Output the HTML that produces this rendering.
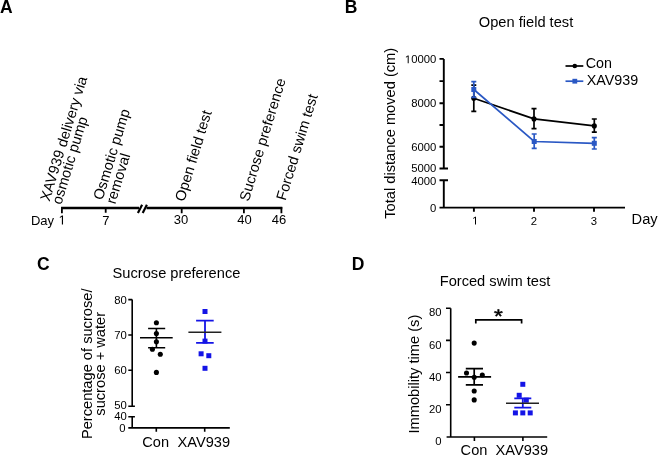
<!DOCTYPE html>
<html><head><meta charset="utf-8">
<style>
html,body{margin:0;padding:0;background:#fff;}
body{width:658px;height:456px;overflow:hidden;}
svg{display:block;will-change:transform;}
text{font-family:"Liberation Sans",sans-serif;fill:#000;}
.b{font-weight:bold;font-size:17.5px;}
.m{font-size:14.65px;}
.t{font-size:11.3px;}
.a{font-size:13px;}
.r{font-size:14.6px;}
.rl{font-size:14.6px;}
</style></head>
<body>
<svg width="658" height="456" viewBox="0 0 658 456">
<!-- ============ Panel A ============ -->
<text class="b" x="0" y="12.6">A</text>
<g stroke="#000" fill="none">
  <path d="M61.1 208H139M146.5 208H282.3" stroke-width="2.4"/>
  <path d="M137.9 212.9L142.1 204.8M142.7 212.9L146.9 204.8" stroke-width="2.2"/>
  <path d="M61.9 207V213.2M105.7 207V212.8M181.7 207V213.2M243.9 207V213.2M281.4 207V213.2" stroke-width="1.8"/>
</g>
<g class="a">
  <text x="54" y="224.5" text-anchor="end">Day</text>
  <path transform="translate(58.60 224.5) scale(0.006348 -0.006348)" d="M515 0V1237L197 1010V1180L530 1409H696V0Z"/>
  <text x="105.8" y="224.5" text-anchor="middle">7</text>
  <text x="181" y="224" text-anchor="middle">30</text>
  <text x="244.5" y="224" text-anchor="middle">40</text>
  <text x="279" y="224" text-anchor="middle">46</text>
</g>
<g class="rl">
  <text transform="translate(49.4 202) rotate(-73)">XAV939 delivery via</text>
  <text transform="translate(61.2 205.3) rotate(-73)">osmotic pump</text>
  <text transform="translate(102.5 200.8) rotate(-73)">Osmotic pump</text>
  <text transform="translate(115.2 204.8) rotate(-73)">removal</text>
  <text transform="translate(184.3 202.2) rotate(-73)">Open field test</text>
  <text transform="translate(248.7 201.9) rotate(-73)">Sucrose preference</text>
  <text transform="translate(285.6 201.3) rotate(-73)">Forced swim test</text>
</g>

<!-- ============ Panel B ============ -->
<text class="b" x="344.7" y="13">B</text>
<text class="m" x="478.8" y="26.8">Open field test</text>
<g stroke="#000" fill="none" stroke-width="1.9">
  <path d="M443.8 58.9V168.5M443.8 180.3V207.6"/>
  <path d="M439.5 58.9H443.8M439.5 81.1H443.8M439.5 103.3H443.8M439.5 125H443.8M439.5 146.8H443.8M439.5 168.5H448M439.5 180.3H448"/>
  <path d="M439.5 207.6H625"/>
  <path d="M473.9 207.6V211.7M534 207.6V211.7M594 207.6V211.7"/>
</g>
<g class="t" text-anchor="end">
  <text x="436.3" y="63.3">0000</text>
  <text x="436.3" y="107.2">8000</text>
  <text x="436.3" y="150.7">6000</text>
  <text x="436.3" y="172.4">5000</text>
  <text x="436.3" y="185.2">4000</text>
  <text x="436.3" y="211.5">0</text>
</g>
<g class="t" text-anchor="middle">
  
  <text x="534" y="224.6">2</text>
  <text x="594" y="224.6">3</text>
</g>
<text class="m" x="631.6" y="223.8">Day</text>
<text class="m" transform="translate(395.1 218.7) rotate(-90)">Total distance moved (cm)</text>
<path transform="translate(404.85 63.3) scale(0.005518 -0.005518)" d="M515 0V1237L197 1010V1180L530 1409H696V0Z"/>
<path transform="translate(472.16 224.6) scale(0.005518 -0.005518)" d="M515 0V1237L197 1010V1180L530 1409H696V0Z"/>
<!-- data B -->
<g stroke="#000" fill="none" stroke-width="1.7">
  <path d="M473.8 98.3L534 118.9L594.3 125.9"/>
  <path d="M473.8 85.2V111.4M471.3 85.2H476.3M471.3 111.4H476.3"/>
  <path d="M534 108.7V128.7M531.5 108.7H536.5M531.5 128.7H536.5"/>
  <path d="M594.3 119V132.2M591.8 119H596.8M591.8 132.2H596.8"/>
</g>
<g fill="#000">
  <circle cx="473.8" cy="98.3" r="2.55"/><circle cx="534" cy="118.9" r="2.55"/><circle cx="594.3" cy="125.9" r="2.55"/>
</g>
<g stroke="#2a58c4" fill="none" stroke-width="1.7">
  <path d="M473.8 89.5L534.2 141.5L594.3 143.3"/>
  <path d="M473.8 81.6V97.4M471.3 81.6H476.3M471.3 97.4H476.3"/>
  <path d="M534.2 134V148.4M531.7 134H536.7M531.7 148.4H536.7"/>
  <path d="M594.3 137.6V149M591.8 137.6H596.8M591.8 149H596.8"/>
</g>
<g fill="#2a58c4">
  <rect x="471.3" y="87" width="5" height="5"/><rect x="531.7" y="139" width="5" height="5"/><rect x="591.8" y="140.8" width="5" height="5"/>
</g>
<!-- legend -->
<path d="M565.5 66H583.3" stroke="#000" stroke-width="1.7"/>
<circle cx="574.8" cy="66" r="2.3" fill="#000"/>
<path d="M565.5 81.2H583.3" stroke="#2a58c4" stroke-width="1.7"/>
<rect x="572.4" y="78.8" width="4.8" height="4.8" fill="#2a58c4"/>
<text class="r" x="585.8" y="67.6" style="font-size:14.3px">Con</text>
<text class="r" x="586.8" y="84.5" style="font-size:14.3px">XAV939</text>

<!-- ============ Panel C ============ -->
<text class="b" x="37" y="270">C</text>
<text class="m" x="112.6" y="278.1">Sucrose preference</text>
<g stroke="#000" fill="none" stroke-width="1.6">
  <path d="M132.2 299.6V406.3M132.2 416.7V427.9"/>
  <path d="M128.3 299.6H132.2M128.3 335H132.2M128.3 370.3H132.2M128.3 406.3H134.9M128.3 416.7H134.9"/>
  <path d="M128.3 427.9H229.8"/>
  <path d="M156.3 427.9V431.7M204.7 427.9V431.7"/>
</g>
<g class="t" text-anchor="end">
  <text x="126.8" y="303.7">80</text>
  <text x="126.8" y="339">70</text>
  <text x="126.8" y="374.3">60</text>
  <text x="126.8" y="409.3">50</text>
  <text x="126.8" y="420.2">40</text>
  <text x="125.6" y="431.7">0</text>
</g>
<g class="r" text-anchor="middle">
  <text x="155.7" y="447.3">Con</text>
  <text x="203.8" y="447.3">XAV939</text>
</g>
<g class="m" text-anchor="middle">
  <text transform="translate(92.2 363.8) rotate(-90)">Percentage of sucrose/</text>
  <text transform="translate(105.4 363.8) rotate(-90)">sucrose + water</text>
</g>
<!-- data C -->
<g fill="#000">
  <circle cx="156.4" cy="322.8" r="2.55"/><circle cx="156.4" cy="333.5" r="2.55"/><circle cx="156.4" cy="341.8" r="2.55"/>
  <circle cx="152.4" cy="349.2" r="2.55"/><circle cx="160.3" cy="354.2" r="2.55"/><circle cx="156.4" cy="372.4" r="2.55"/>
</g>
<g stroke="#000" fill="none" stroke-width="1.6">
  <path d="M140 337.8H172.7M148.1 328.5H165.2M148.1 347.8H165.2M156.4 328.5V347.8"/>
</g>
<g fill="#1414e6">
  <rect x="202.5" y="309.0" width="5" height="5"/><rect x="202.5" y="338.6" width="5" height="5"/>
  <rect x="198.6" y="351.3" width="5" height="5"/><rect x="206.3" y="353.2" width="5" height="5"/>
  <rect x="202.5" y="365.8" width="5" height="5"/>
</g>
<path d="M196.1 320.7H213.7M196.1 342.9H213.7M205 320.7V342.9" stroke="#1414e6" stroke-width="1.8" fill="none"/>
<path d="M188.4 332.2H221.4" stroke="#222" stroke-width="1.6"/>

<!-- ============ Panel D ============ -->
<text class="b" x="351.7" y="270">D</text>
<text class="m" x="439.7" y="286.4">Forced swim test</text>
<g stroke="#000" fill="none" stroke-width="1.6">
  <path d="M450.7 308.3V437"/>
  <path d="M446 308.3H450.7M446 340.4H450.7M446 372.5H450.7M446 404.7H450.7"/>
  <path d="M446.6 437H547.2"/>
  <path d="M474.4 437V440.9M522.9 437V440.9"/>
</g>
<g class="t" text-anchor="end">
  <text x="441.5" y="316.4">80</text>
  <text x="441.5" y="348.7">60</text>
  <text x="441.5" y="381">40</text>
  <text x="441.5" y="412.6">20</text>
  <text x="441.5" y="445.1">0</text>
</g>
<g class="r" text-anchor="middle">
  <text x="474" y="455">Con</text>
  <text x="521.8" y="455">XAV939</text>
</g>
<text class="m" transform="translate(418.6 433.5) rotate(-90)">Immobility time (s)</text>
<!-- bracket & star -->
<path d="M475.8 323.6V319.8H521.6V323.6" stroke="#000" stroke-width="1.7" fill="none"/>
<path transform="translate(498.4 312.9) scale(0.0112 -0.00946) translate(-399 -1049.5)" d="M456 1114 720 1217 765 1085 483 1012 668 762 549 690 399 948 243 692 124 764 313 1012 33 1085 78 1219 345 1112 333 1409H469Z" fill="#000" stroke="#000" stroke-width="0.6" vector-effect="non-scaling-stroke" stroke-linejoin="round"/>
<!-- data D -->
<g fill="#000">
  <circle cx="474.2" cy="343.1" r="2.55"/><circle cx="466.5" cy="373" r="2.55"/><circle cx="482.3" cy="375" r="2.55"/>
  <circle cx="474.2" cy="377.3" r="2.55"/><circle cx="474.2" cy="391" r="2.55"/><circle cx="474.2" cy="399.9" r="2.55"/>
</g>
<path d="M458.1 376.9H491.1M465.8 368.7H483M465.8 384.8H483M474.2 368.7V384.8" stroke="#000" stroke-width="1.7" fill="none"/>
<g fill="#1414e6">
  <rect x="520.3" y="381.8" width="5" height="5"/><rect x="516.7" y="392.8" width="5" height="5"/>
  <rect x="523.8" y="397.7" width="5" height="5"/><rect x="512.9" y="410.4" width="5" height="5"/>
  <rect x="520.3" y="410.4" width="5" height="5"/><rect x="527.7" y="410.4" width="5" height="5"/>
</g>
<path d="M514.3 398.3H531.3M514.3 407.6H531.3M522.8 398.3V407.6" stroke="#1414e6" stroke-width="1.8" fill="none"/>
<path d="M506 403.3H539" stroke="#222" stroke-width="1.6"/>
</svg>
</body></html>
